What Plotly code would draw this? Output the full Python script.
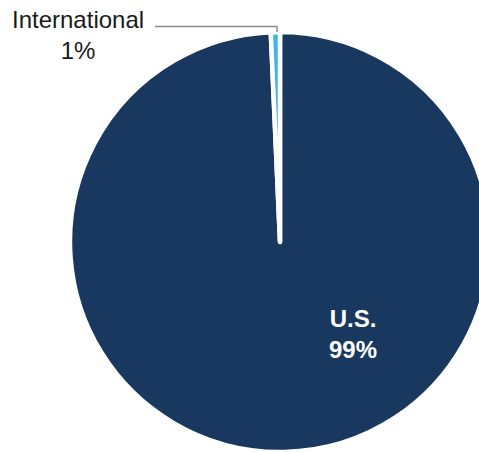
import plotly.graph_objects as go

labels = ["U.S.", "International"]
values = [99.3, 0.7]
colors = ["#19385f", "#3db5e6"]

W, H = 490, 452

def px(x):
    return x / W

def py(y):
    return 1 - y / H

fig = go.Figure(
    go.Pie(
        labels=labels,
        values=values,
        sort=False,
        direction="clockwise",
        rotation=0,
        textinfo="none",
        hoverinfo="label+percent",
        marker=dict(colors=colors, line=dict(color="white", width=4.5)),
        domain=dict(x=[px(70), 1], y=[py(452), py(32)]),
        showlegend=False,
    )
)

total = sum(values)
pcts = [round(v / total * 100) for v in values]

fig.add_annotation(
    x=px(353), y=py(334), xref="paper", yref="paper",
    text=f"<b>{labels[0]}<br>{pcts[0]}%</b>",
    showarrow=False, xanchor="center", yanchor="middle",
    font=dict(family="Liberation Sans, Arial, sans-serif", size=24, color="white"),
)
fig.add_annotation(
    x=px(78), y=py(35), xref="paper", yref="paper",
    text=f"{labels[1]}<br>{pcts[1]}%",
    showarrow=False, xanchor="center", yanchor="middle",
    font=dict(family="Liberation Sans, Arial, sans-serif", size=24, color="#1a1a1a"),
)
fig.add_shape(
    type="path", xref="paper", yref="paper",
    path=f"M {px(155)} {py(26.5)} L {px(277)} {py(26.5)} L {px(277)} {py(32)}",
    line=dict(color="#8c8c8c", width=1.5),
)

fig.update_layout(
    width=W, height=H,
    margin=dict(l=0, r=0, t=0, b=0),
    paper_bgcolor="white", plot_bgcolor="white",
)

fig.write_html(
    "out.html",
    config={"displayModeBar": False},
    post_script="document.body.style.margin='0';document.body.style.overflow='hidden';",
)
